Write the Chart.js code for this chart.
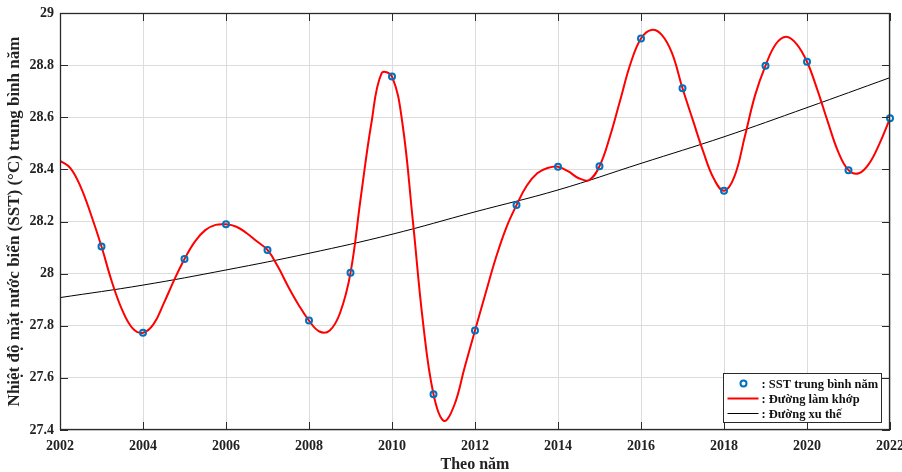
<!DOCTYPE html>
<html>
<head>
<meta charset="utf-8">
<script src="https://cdn.jsdelivr.net/npm/chart.js@4.4.1/dist/chart.umd.min.js"></script>
<style>
  html, body { margin: 0; padding: 0; background: #fff; overflow: hidden; }
  #wrap { width: 902px; height: 472px; position: relative; }
</style>
</head>
<body>
<div id="wrap"><canvas id="c" width="902" height="472"></canvas></div>
<script>
// ---- Data ----
const years = [2003, 2004, 2005, 2006, 2007, 2008, 2009, 2010, 2011, 2012,
               2013, 2014, 2015, 2016, 2017, 2018, 2019, 2020, 2021, 2022];
const sstValues = [28.104, 27.773, 28.056, 28.189, 28.091, 27.820, 28.003, 28.756, 27.537, 27.782,
                   28.263, 28.410, 28.412, 28.902, 28.711, 28.318, 28.798, 28.813, 28.397, 28.596];

// fitted curve (Đường làm khớp): values every quarter year, 2002 → 2022
const fitStartYear = 2002;
const fitStepYears = 0.25;
const fitValues = [
  28.433, 28.405, 28.332, 28.225,   // 2002
  28.104, 27.969, 27.860, 27.790,   // 2003
  27.773, 27.805, 27.886, 27.975,   // 2004
  28.056, 28.123, 28.167, 28.187,   // 2005
  28.189, 28.180, 28.155, 28.123,   // 2006
  28.091, 28.027, 27.950, 27.880,   // 2007
  27.820, 27.778, 27.782, 27.850,   // 2008
  28.003, 28.295, 28.574, 28.769,   // 2009
  28.756, 28.578, 28.206, 27.809,   // 2010
  27.537, 27.435, 27.495, 27.640,   // 2011
  27.782, 27.922, 28.059, 28.175,   // 2012
  28.263, 28.338, 28.385, 28.405,   // 2013
  28.410, 28.392, 28.366, 28.359,   // 2014
  28.412, 28.525, 28.666, 28.807,   // 2015
  28.902, 28.935, 28.916, 28.845,   // 2016
  28.711, 28.589, 28.468, 28.366,   // 2017
  28.318, 28.372, 28.525, 28.685,   // 2018
  28.798, 28.881, 28.909, 28.881,   // 2019
  28.813, 28.705, 28.583, 28.468,   // 2020
  28.397, 28.385, 28.423, 28.500,   // 2021
  28.596                            // 2022
];
const fitYears = fitValues.map((_, i) => fitStartYear + i * fitStepYears);

// trend line (Đường xu thế)
const trendYears = [2002, 2004, 2006, 2008, 2010, 2012, 2014, 2016, 2018, 2020, 2022];
const trendValues = [27.908, 27.956, 28.014, 28.078, 28.151, 28.237, 28.321, 28.423, 28.525, 28.637, 28.752];

// axis ticks
const xTicks = [2002, 2004, 2006, 2008, 2010, 2012, 2014, 2016, 2018, 2020, 2022];
const yTicks = [27.4, 27.6, 27.8, 28, 28.2, 28.4, 28.6, 28.8, 29];

const xTitle = 'Theo năm';
const yTitle = 'Nhiệt độ mặt nước biển (SST) (°C) trung bình năm';
const seriesLabels = [': SST trung bình năm', ': Đường làm khớp', ': Đường xu thế'];

const toXY = (xs, ys) => xs.map((x, i) => ({ x: x, y: ys[i] }));

const FONT = "'Liberation Serif', 'Times New Roman', serif";
const AXIS_COLOR = '#2a2a2a';

const framePlugin = {
  id: 'frame',
  afterDatasetsDraw(chart) {
    const { ctx, chartArea: a, scales } = chart;
    const x = scales.x, y = scales.y;
    ctx.save();
    ctx.strokeStyle = AXIS_COLOR;
    ctx.lineWidth = 1;
    ctx.beginPath();
    x.ticks.forEach(t => {
      const px = Math.round(x.getPixelForValue(t.value)) + 0.5;
      ctx.moveTo(px, a.bottom); ctx.lineTo(px, a.bottom - 8);
      ctx.moveTo(px, a.top); ctx.lineTo(px, a.top + 8);
    });
    y.ticks.forEach(t => {
      const py = Math.round(y.getPixelForValue(t.value)) + 0.5;
      ctx.moveTo(a.left, py); ctx.lineTo(a.left + 8, py);
      ctx.moveTo(a.right, py); ctx.lineTo(a.right - 8, py);
    });
    ctx.stroke();
    ctx.lineWidth = 1.3;
    ctx.strokeRect(Math.round(a.left) + 0.5, Math.round(a.top) + 0.5,
                   Math.round(a.right - a.left) - 1, Math.round(a.bottom - a.top) - 1);

    // legend box
    const lw = 158, lh = 49;
    const lx = Math.round(a.right - 9 - lw) + 0.5;
    const ly = Math.round(a.bottom - 8 - lh) + 0.5;
    ctx.fillStyle = '#fff';
    ctx.fillRect(lx, ly, lw, lh);
    ctx.lineWidth = 1;
    ctx.strokeStyle = AXIS_COLOR;
    ctx.strokeRect(lx, ly, lw, lh);
    const rows = [ly + 10, ly + 25, ly + 40];
    const ds = chart.data.datasets;
    ctx.beginPath();
    ctx.arc(lx + 20, rows[0], 3, 0, Math.PI * 2);
    ctx.strokeStyle = ds[0].borderColor;
    ctx.lineWidth = 2;
    ctx.stroke();
    ctx.beginPath();
    ctx.moveTo(lx + 4, rows[1]); ctx.lineTo(lx + 35, rows[1]);
    ctx.strokeStyle = ds[1].borderColor; ctx.lineWidth = 2; ctx.stroke();
    ctx.beginPath();
    ctx.moveTo(lx + 4, rows[2]); ctx.lineTo(lx + 35, rows[2]);
    ctx.strokeStyle = ds[2].borderColor; ctx.lineWidth = 1; ctx.stroke();
    ctx.fillStyle = '#111';
    ctx.font = "bold 12.5px " + FONT;
    ctx.textBaseline = 'middle';
    ctx.textAlign = 'left';
    ds.forEach((d, i) => ctx.fillText(d.label, lx + 38, rows[i] + 1));
    ctx.restore();
  }
};

new Chart(document.getElementById('c'), {
  type: 'scatter',
  data: {
    datasets: [
      {
        label: seriesLabels[0],
        data: toXY(years, sstValues),
        showLine: false,
        pointStyle: 'circle',
        pointRadius: 3,
        pointBorderWidth: 2,
        borderColor: '#0072BD',
        backgroundColor: 'rgba(0,0,0,0)',
        pointBackgroundColor: 'rgba(0,0,0,0)',
        clip: false,
        order: 0
      },
      {
        label: seriesLabels[1],
        data: toXY(fitYears, fitValues),
        showLine: true,
        tension: 0.4,
        borderColor: '#ff0000',
        borderWidth: 2,
        pointRadius: 0,
        fill: false,
        order: 1
      },
      {
        label: seriesLabels[2],
        data: toXY(trendYears, trendValues),
        showLine: true,
        tension: 0.4,
        borderColor: '#000000',
        borderWidth: 1,
        pointRadius: 0,
        fill: false,
        order: 2
      }
    ]
  },
  options: {
    responsive: false,
    animation: false,
    events: [],
    layout: { padding: { top: 13, right: 12, left: 0, bottom: 0 } },
    plugins: { legend: { display: false }, tooltip: { enabled: false } },
    scales: {
      x: {
        type: 'linear',
        min: 2002, max: 2022,
        afterBuildTicks: s => { s.ticks = xTicks.map(v => ({ value: v })); },
        afterFit: s => { s.height = 42; s.paddingLeft = 0; s.paddingRight = 0; },
        grid: { color: '#dcdcdc', lineWidth: 1, drawTicks: false },
        border: { display: false },
        ticks: {
          color: '#222',
          padding: 8,
          maxRotation: 0,
          autoSkip: false,
          font: { family: FONT, size: 14, weight: 'bold' },
          callback: v => String(v)
        },
        title: {
          display: true,
          text: xTitle,
          color: '#222',
          padding: { top: 0, bottom: 0 },
          font: { family: FONT, size: 16, weight: 'bold', lineHeight: 0.85 }
        }
      },
      y: {
        type: 'linear',
        min: 27.4, max: 29,
        afterBuildTicks: s => { s.ticks = yTicks.map(v => ({ value: v })); },
        afterFit: s => { s.width = 60; s.paddingTop = 0; s.paddingBottom = 0; },
        grid: { color: '#dcdcdc', lineWidth: 1, drawTicks: false },
        border: { display: false },
        ticks: {
          color: '#222',
          padding: 6,
          autoSkip: false,
          font: { family: FONT, size: 14, weight: 'bold' },
          callback: v => String(+(+v).toFixed(1))
        },
        title: {
          display: true,
          text: yTitle,
          color: '#222',
          padding: { top: 4, bottom: 0 },
          font: { family: FONT, size: 17, weight: 'bold', lineHeight: 1.2 }
        }
      }
    }
  },
  plugins: [framePlugin]
});
</script>
</body>
</html>
